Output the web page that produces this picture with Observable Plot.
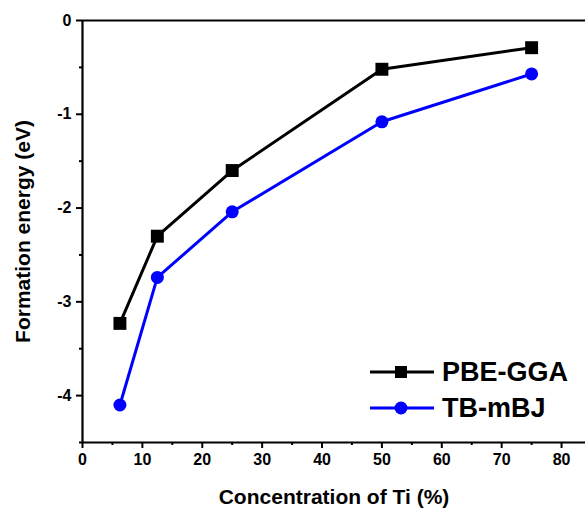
<!DOCTYPE html>
<html>
<head>
<meta charset="utf-8">
<script src="https://cdn.jsdelivr.net/npm/d3@7"></script>
<script src="https://cdn.jsdelivr.net/npm/@observablehq/plot@0.6"></script>
<style>
  body { margin: 0; background: #fff; }
  #wrap { position: relative; width: 585px; height: 511px; font-family: "Liberation Sans", Arial, sans-serif; }
  #wrap svg { overflow: visible; }
  g[aria-label="x-axis label"] text, g[aria-label="y-axis label"] text { font-size: 21px; }
  #legend { position: absolute; left: 368px; top: 354px; font-weight: bold; font-size: 27px; color: #000; }
  #legend .row { display: flex; align-items: center; height: 36px; }
  #legend svg { margin-right: 6px; }
</style>
</head>
<body>
<div id="wrap"></div>
<script>
const concentration = [6.25, 12.5, 25, 50, 75];
const pbeGGA = [-3.23, -2.30, -1.60, -0.52, -0.29];
const tbmBJ = [-4.10, -2.74, -2.04, -1.08, -0.57];
const seriesNames = ["PBE-GGA", "TB-mBJ"];
const seriesColors = ["#000000", "#0000ff"];
const seriesSymbols = ["square", "circle"];
const xTicks = [0, 10, 20, 30, 40, 50, 60, 70, 80];
const xMinorTicks = [5, 15, 25, 35, 45, 55, 65, 75];
const yTicks = [0, -1, -2, -3, -4];
const yMinorTicks = [-0.5, -1.5, -2.5, -3.5, -4.5];

const rows = [];
[pbeGGA, tbmBJ].forEach((vals, i) => {
  vals.forEach((v, j) => rows.push({series: seriesNames[i], x: concentration[j], y: v}));
});
const pbeRows = rows.filter(d => d.series === "PBE-GGA");
const tbRows = rows.filter(d => d.series === "TB-mBJ");

const chart = Plot.plot({
  width: 585,
  height: 511,
  marginLeft: 82,
  marginTop: 20,
  marginBottom: 69,
  marginRight: 0,
  x: {domain: [0, 84]},
  y: {domain: [-4.5, 0]},
  color: {domain: seriesNames, range: seriesColors},
  style: {fontFamily: "'Liberation Sans', Arial, sans-serif", fontWeight: "bold", fontSize: "16px", color: "#000", background: "#fff"},
  marks: [
    Plot.axisX(xTicks, {tickSize: 6, tickPadding: 5, strokeWidth: 2, label: "Concentration of Ti (%)", labelAnchor: "center", labelOffset: 61, labelArrow: "none"}),
    Plot.axisX(xMinorTicks, {tickSize: 3, strokeWidth: 2, text: null, label: null}),
    Plot.axisY(yTicks, {tickSize: 6, tickPadding: 5, strokeWidth: 2, tickFormat: d => d === 0 ? "0" : String(d).replace("\u2212", "-"), label: "Formation energy (eV)", labelAnchor: "center", labelOffset: 67, labelArrow: "none"}),
    Plot.axisY(yMinorTicks, {tickSize: 3, strokeWidth: 2, text: null, label: null}),
    Plot.ruleX([0], {strokeWidth: 2.2}),
    Plot.ruleY([-4.5, 0], {strokeWidth: 2.2}),
    Plot.line(rows, {x: "x", y: "y", z: "series", stroke: "series", strokeWidth: 3}),
    Plot.dot(pbeRows, {x: "x", y: "y", fill: seriesColors[0], symbol: "square", r: 7.3}),
    Plot.dot(tbRows, {x: "x", y: "y", fill: seriesColors[1], symbol: "circle", r: 6.5})
  ]
});
document.getElementById("wrap").appendChild(chart);

const legend = document.createElement("div");
legend.id = "legend";
seriesNames.forEach((name, i) => {
  const row = document.createElement("div");
  row.className = "row";
  const marker = seriesSymbols[i] === "square"
    ? `<rect x="27" y="12" width="12" height="12" fill="${seriesColors[i]}"/>`
    : `<circle cx="33" cy="18" r="6.5" fill="${seriesColors[i]}"/>`;
  row.innerHTML = `<svg width="68" height="36"><line x1="2" y1="18" x2="66" y2="18" stroke="${seriesColors[i]}" stroke-width="3"/>${marker}</svg><span>${name}</span>`;
  legend.appendChild(row);
});
document.getElementById("wrap").appendChild(legend);
</script>
</body>
</html>
